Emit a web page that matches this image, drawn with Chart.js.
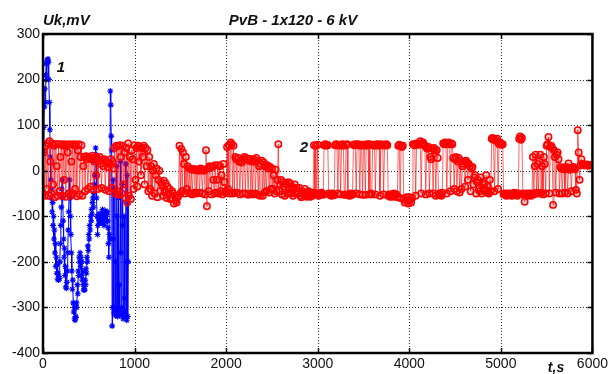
<!DOCTYPE html>
<html><head><meta charset="utf-8">
<script src="https://cdn.jsdelivr.net/npm/chart.js@4.4.1/dist/chart.umd.min.js"></script>
<style>html,body{margin:0;padding:0;background:#fff;}#wrap{width:611px;height:374px;position:relative;}</style>
</head><body><div id="wrap"><canvas id="c" width="611" height="374"></canvas></div>
<script>
const xTickValues = [0, 1000, 2000, 3000, 4000, 5000, 6000];
const yTickValues = [-400, -300, -200, -100, 0, 100, 200, 300];
const titleText = "PvB - 1x120 - 6 kV";
const yAxisTitle = "Uk,mV";
const xAxisTitle = "t,s";
const seriesNames = ["1", "2"];

// Series 1 (blue), sampled every 5 s
const blueTime = [
  0,5,10,15,20,25,30,35,40,45, 50,55,60,65,70,75,80,85,90,95,
  100,105,110,115,120,125,130,135,140,145, 150,155,160,165,170,175,180,185,190,195,
  200,205,210,215,220,225,230,235,240,245, 250,255,260,265,270,275,280,285,290,295,
  300,305,310,315,320,325,330,335,340,345, 350,355,360,365,370,375,380,385,390,395,
  400,405,410,415,420,425,430,435,440,445, 450,455,460,465,470,475,480,485,490,495,
  500,505,510,515,520,525,530,535,540,545, 550,555,560,565,570,575,580,585,590,595,
  600,605,610,615,620,625,630,635,640,645, 650,655,660,665,670,675,680,685,690,695,
  700,705,710,715,720,725,730,735,740,745, 750,755,760,765,770,775,780,785,790,795,
  800,805,810,815,820,825,830,835,840,845, 850,855,860,865,870,875,880,885,890,895,
  900,905,910,915,920,925,930,935
];
const blueValue = [
  40,95,60,140,180,150,210,235,200,243, 240,245,238,200,150,90,30,-20,-60,-40,
  -90,-70,-120,-100,-150,-130,-180,-160,-210,-190, -225,-205,-238,-225,-240,-232,-236,-200,-160,-120,
  -80,-40,-20,-60,-110,-150,-190,-170,-230,-210, -255,-258,-245,-220,-180,-130,-90,-50,-20,-60,
  -100,-140,-180,-220,-260,-240,-290,-310,-300,-325, -328,-320,-322,-290,-300,-250,-270,-220,-230,-190,
  -200,-180,-210,-190,-230,-200,-240,-220,-250,-262, -258,-262,-240,-250,-215,-225,-190,-200,-165,-175,
  -140,-150,-120,-130,-100,-110,-85,-95,-70,-60, -80,-50,-30,-10,20,50,35,-60,-100,-140,
  -120,-105,-95,-110,-100,-115,-98,-108,-92,-100, -85,-95,-110,-120,-105,-95,-88,-100,-112,-96,
  -90,-110,-125,-160,-190,-140,-150,175,144,76, 45,-341,-300,-20,-150,-310,-315,-40,-200,-318,
  -300,10,-100,-320,-310,-60,-250,-305,-315,20, -180,-318,-300,-30,-120,-325,-310,-100,-280,-310,
  -320,15,-200,-328,-10,-320,-200,-60
];

// Series 2 (red), sampled every 10 s
const redTime = [
  0,10,20,30,40,50,60,70,80,90, 100,110,120,130,140,150,160,170,180,190,
  200,210,220,230,240,250,260,270,280,290, 300,310,320,330,340,350,360,370,380,390,
  400,410,420,430,440,450,460,470,480,490, 500,510,520,530,540,550,560,570,580,590,
  600,610,620,630,640,650,660,670,680,690, 700,710,720,730,740,750,760,770,780,790,
  800,810,820,830,840,850,860,870,880,890, 900,910,920,930,940,950,960,970,980,990,
  1000,1010,1020,1030,1040,1050,1060,1070,1080,1090, 1100,1110,1120,1130,1140,1150,1160,1170,1180,1190,
  1200,1210,1220,1230,1240,1250,1260,1270,1280,1290, 1300,1310,1320,1330,1340,1350,1360,1370,1380,1390,
  1400,1410,1420,1430,1440,1450,1460,1470,1480,1490, 1500,1510,1520,1530,1540,1550,1560,1570,1580,1590,
  1600,1610,1620,1630,1640,1650,1660,1670,1680,1690, 1700,1710,1720,1730,1740,1750,1760,1770,1780,1790,
  1800,1810,1820,1830,1840,1850,1860,1870,1880,1890, 1900,1910,1920,1930,1940,1950,1960,1970,1980,1990,
  2000,2010,2020,2030,2040,2050,2060,2070,2080,2090, 2100,2110,2120,2130,2140,2150,2160,2170,2180,2190,
  2200,2210,2220,2230,2240,2250,2260,2270,2280,2290, 2300,2310,2320,2330,2340,2350,2360,2370,2380,2390,
  2400,2410,2420,2430,2440,2450,2460,2470,2480,2490, 2500,2510,2520,2530,2540,2550,2560,2570,2580,2590,
  2600,2610,2620,2630,2640,2650,2660,2670,2680,2690, 2700,2710,2720,2730,2740,2750,2760,2770,2780,2790,
  2800,2810,2820,2830,2840,2850,2860,2870,2880,2890, 2900,2910,2920,2930,2940,2950,2960,2970,2980,2990,
  3000,3010,3020,3030,3040,3050,3060,3070,3080,3090, 3100,3110,3120,3130,3140,3150,3160,3170,3180,3190,
  3200,3210,3220,3230,3240,3250,3260,3270,3280,3290, 3300,3310,3320,3330,3340,3350,3360,3370,3380,3390,
  3400,3410,3420,3430,3440,3450,3460,3470,3480,3490, 3500,3510,3520,3530,3540,3550,3560,3570,3580,3590,
  3600,3610,3620,3630,3640,3650,3660,3670,3680,3690, 3700,3710,3720,3730,3740,3750,3760,3770,3780,3790,
  3800,3810,3820,3830,3840,3850,3860,3870,3880,3890, 3900,3910,3920,3930,3940,3950,3960,3970,3980,3990,
  4000,4010,4020,4030,4040,4050,4060,4070,4080,4090, 4100,4110,4120,4130,4140,4150,4160,4170,4180,4190,
  4200,4210,4220,4230,4240,4250,4260,4270,4280,4290, 4300,4310,4320,4330,4340,4350,4360,4370,4380,4390,
  4400,4410,4420,4430,4440,4450,4460,4470,4480,4490, 4500,4510,4520,4530,4540,4550,4560,4570,4580,4590,
  4600,4610,4620,4630,4640,4650,4660,4670,4680,4690, 4700,4710,4720,4730,4740,4750,4760,4770,4780,4790,
  4800,4810,4820,4830,4840,4850,4860,4870,4880,4890, 4900,4910,4920,4930,4940,4950,4960,4970,4980,4990,
  5000,5010,5020,5030,5040,5050,5060,5070,5080,5090, 5100,5110,5120,5130,5140,5150,5160,5170,5180,5190,
  5200,5210,5220,5230,5240,5250,5260,5270,5280,5290, 5300,5310,5320,5330,5340,5350,5360,5370,5380,5390,
  5400,5410,5420,5430,5440,5450,5460,5470,5480,5490, 5500,5510,5520,5530,5540,5550,5560,5570,5580,5590,
  5600,5610,5620,5630,5640,5650,5660,5670,5680,5690, 5700,5710,5720,5730,5740,5750,5760,5770,5780,5790,
  5800,5810,5820,5830,5840,5850,5860,5870,5880,5890, 5900,5910,5920,5930,5940,5950,5960,5970,5980,5990,
  6000
];
const redValue = [
  -50,40,-55,55,-40,60,-55,65,20,-50, 60,-30,55,-58,58,10,-55,58,-45,30,
  58,-55,55,-20,58,-57,56,40,-50,58, -55,20,57,-50,58,-40,55,-56,45,58,
  -52,30,56,-55,10,30,-45,32,25,-40, 30,28,-35,25,33,-42,20,30,-10,28,
  -40,22,30,15,-38,24,10,25,-42,20, 18,8,-45,15,25,-38,20,5,50,-50,
  55,-45,54,-53,56,30,-50,55,-30,40, -60,50,-70,60,-55,30,-62,45,25,-40,
  56,-20,50,-35,55,20,52,-10,50,30, 55,-30,50,10,45,-45,30,-40,10,-55,
  0,15,-50,-10,5,-58,-20,0,-45,-25, -30,-55,-22,-45,-28,-60,-35,-50,-40,-62,
  -60,-45,-50,-72,-55,-65,-70,-58,-55,55, -50,48,-45,40,15,-50,30,-40,10,-48,
  5,-50,3,-52,2,4,-48,1,-50,3, 0,-48,5,2,-50,3,0,-52,45,-78,
  5,-45,10,8,-52,8,-20,-50,12,-48, -20,12,-50,10,-45,-10,-52,15,-25,-48,
  -45,52,-40,56,-50,62,58,-50,55,-48, 30,25,-48,28,20,-52,22,18,-50,25,
  30,-50,28,25,-53,22,26,-50,20,-52, 25,20,-50,28,22,-53,10,-55,15,22,
  -55,18,-48,10,-45,12,5,-48,8,-40, 5,-40,-10,-50,2,-45,-20,58,-45,-30,
  -20,-52,-25,-35,-55,-28,-30,-50,-25,-48, -28,-50,-35,-55,-40,-30,-50,-38,-45,-50,
  -38,-55,-58,-45,-50,-52,-40,-55,-57,-48, -45,-52,-57,-50,-55,-48,56,-52,55,-50,
  57,-55,-50,-52,-48,-50,-53,56,58,55, 57,56,-50,-53,-52,-55,-50,-52,-54,56,
  58,57,-50,55,57,-52,56,58,55,-53, -52,56,58,-54,-52,-55,-50,-53,-52,57,
  56,58,-50,57,58,56,-52,55,57,-53, 56,57,-53,55,58,57,-52,58,-50,-52,
  56,57,55,-52,57,58,56,55,-55,58, 56,57,-52,55,57,58,56,-55,-52,-57,
  -55,-52,-57,-50,-53,-55,-52,-58,55,57, -60,54,52,55,-62,-70,-65,-58,-65,-72,
  -58,-65,-70,-60,58,57,56,-55,60,58, 57,60,65,-50,60,62,58,55,-52,50,
  48,52,-50,30,25,48,-50,50,45,-55, 45,28,-53,-50,-52,-55,-48,60,58,62,
  58,-50,60,62,58,-45,60,58,28,-40, 25,30,-45,20,28,-48,22,-40,10,15,
  20,-35,22,18,-20,15,10,-45,5,8, -30,-15,-10,-50,-25,-20,-40,-45,-15,-50,
  -25,-40,-30,-45,-10,-48,-35,-50,-20,-45, 70,72,68,-45,68,65,70,-40,58,62,
  58,57,58,-52,-50,-53,-55,-50,-52,-54, -50,-53,-55,-50,-52,-48,-50,-53,-55,-50,
  70,75,68,72,-50,-53,-68,-52,-50,-55, -52,-50,-53,-55,-50,30,-52,10,35,-48,
  15,-50,20,35,-48,10,-52,30,15,-50, 55,58,74,-50,52,55,50,-75,45,30,
  -48,35,40,25,-50,8,5,-50,5,3, -48,8,5,-50,16,2,6,-45,5,8,
  5,3,-42,-50,89,40,-20,12,25,15, 12,13,12,14,12,11,13,12,12,12,
  12
];

const FONT = '"Liberation Sans", Arial, sans-serif';

function pts(ts, vs) {
  const n = Math.min(ts.length, vs.length);
  const out = [];
  for (let i = 0; i < n; i++) out.push({x: ts[i], y: vs[i]});
  return out;
}

const decor = {
  id: 'decor',
  beforeDatasetsDraw(chart) {
    const {ctx, chartArea: a, scales: {x, y}} = chart;
    ctx.save();
    ctx.strokeStyle = 'rgba(0,0,0,0.85)';
    ctx.lineWidth = 1;
    ctx.setLineDash([1, 2]);
    xTickValues.forEach(v => {
      const px = Math.round(x.getPixelForValue(v)) + 0.5;
      if (px <= a.left + 2 || px >= a.right - 2) return;
      ctx.beginPath(); ctx.moveTo(px, a.top); ctx.lineTo(px, a.bottom); ctx.stroke();
    });
    yTickValues.forEach(v => {
      const py = Math.round(y.getPixelForValue(v)) + 0.5;
      if (py <= a.top + 2 || py >= a.bottom - 2) return;
      ctx.beginPath(); ctx.moveTo(a.left, py); ctx.lineTo(a.right, py); ctx.stroke();
    });
    ctx.restore();
  },
  afterDatasetsDraw(chart) {
    const {ctx, chartArea: a, scales: {x, y}} = chart;
    ctx.save();
    ctx.setLineDash([]);
    ctx.strokeStyle = '#000';
    ctx.lineWidth = 1.5;
    const tl = 5;
    xTickValues.forEach(v => {
      const px = Math.round(x.getPixelForValue(v)) + 0.5;
      ctx.beginPath(); ctx.moveTo(px, a.top); ctx.lineTo(px, a.top + tl); ctx.stroke();
      ctx.beginPath(); ctx.moveTo(px, a.bottom); ctx.lineTo(px, a.bottom - tl); ctx.stroke();
    });
    yTickValues.forEach(v => {
      const py = Math.round(y.getPixelForValue(v)) + 0.5;
      ctx.beginPath(); ctx.moveTo(a.left, py); ctx.lineTo(a.left + tl, py); ctx.stroke();
      ctx.beginPath(); ctx.moveTo(a.right, py); ctx.lineTo(a.right - tl, py); ctx.stroke();
    });
    ctx.lineWidth = 2.5;
    ctx.strokeRect(a.left, a.top, a.right - a.left, a.bottom - a.top);

    ctx.fillStyle = '#111';
    ctx.textBaseline = 'middle';
    ctx.font = 'italic bold 15px ' + FONT;
    ctx.textAlign = 'left';
    ctx.fillText(yAxisTitle, 43, 21);
    ctx.textAlign = 'center';
    ctx.fillText(titleText, 293, 21);
    ctx.font = 'italic bold 14px ' + FONT;
    ctx.fillText(xAxisTitle, 556, 368);
    ctx.font = 'italic bold 15px ' + FONT;
    ctx.fillText(seriesNames[0], 61, 68);
    ctx.fillText(seriesNames[1], 304, 148);
    ctx.restore();
  }
};

new Chart(document.getElementById('c'), {
  type: 'line',
  data: {
    datasets: [
      {
        label: seriesNames[1],
        data: pts(redTime, redValue),
        order: 0,
        borderColor: 'rgba(255,0,0,0.6)',
        borderWidth: 1,
        pointStyle: 'circle',
        pointRadius: 3.2,
        pointBorderWidth: 1.5,
        pointBorderColor: '#ff0000',
        pointBackgroundColor: 'rgba(255,0,0,0.2)',
        tension: 0
      },
      {
        label: seriesNames[0],
        data: pts(blueTime, blueValue),
        order: 1,
        borderColor: '#0000ff',
        borderWidth: 1,
        pointStyle: 'star',
        pointRadius: 3,
        pointBorderWidth: 1.1,
        pointBorderColor: '#0000ff',
        pointBackgroundColor: '#0000ff',
        tension: 0
      }
    ]
  },
  options: {
    responsive: false,
    animation: false,
    devicePixelRatio: 1,
    layout: {padding: {top: 34, right: 16, left: 0, bottom: 0}},
    plugins: {legend: {display: false}, tooltip: {enabled: false}, title: {display: false}},
    scales: {
      x: {
        type: 'linear', min: 0, max: 6000,
        afterFit(s) { s.height = 21; },
        afterBuildTicks(s) { s.ticks = xTickValues.map(v => ({value: v})); },
        grid: {display: false, drawTicks: false},
        border: {display: false},
        ticks: {padding: 3, color: '#111', font: {family: FONT, size: 14}, maxRotation: 0, autoSkip: false,
                callback: v => String(v)}
      },
      y: {
        type: 'linear', min: -400, max: 300,
        afterFit(s) { s.width = 43; },
        afterBuildTicks(s) { s.ticks = yTickValues.map(v => ({value: v})); },
        grid: {display: false, drawTicks: false},
        border: {display: false},
        ticks: {padding: 3, color: '#111', font: {family: FONT, size: 14}, autoSkip: false,
                callback: v => String(v)}
      }
    }
  },
  plugins: [decor]
});
</script>
</body></html>
